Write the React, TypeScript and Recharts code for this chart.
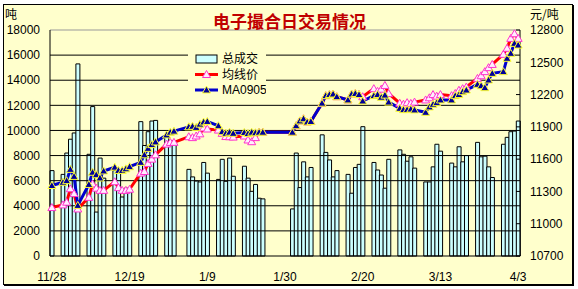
import React from "react";
import {
  ComposedChart,
  Bar,
  Line,
  XAxis,
  YAxis,
  ReferenceLine,
  Legend,
} from "recharts";

const N = null;

// every calendar day 2008/11/28 .. 2009/4/3 (rows run Mon..Sun)
const days = [
  "11/28", "11/29", "11/30",
  "12/1", "12/2", "12/3", "12/4", "12/5", "12/6", "12/7",
  "12/8", "12/9", "12/10", "12/11", "12/12", "12/13", "12/14",
  "12/15", "12/16", "12/17", "12/18", "12/19", "12/20", "12/21",
  "12/22", "12/23", "12/24", "12/25", "12/26", "12/27", "12/28",
  "12/29", "12/30", "12/31", "1/1", "1/2", "1/3", "1/4",
  "1/5", "1/6", "1/7", "1/8", "1/9", "1/10", "1/11",
  "1/12", "1/13", "1/14", "1/15", "1/16", "1/17", "1/18",
  "1/19", "1/20", "1/21", "1/22", "1/23", "1/24", "1/25",
  "1/26", "1/27", "1/28", "1/29", "1/30", "1/31", "2/1",
  "2/2", "2/3", "2/4", "2/5", "2/6", "2/7", "2/8",
  "2/9", "2/10", "2/11", "2/12", "2/13", "2/14", "2/15",
  "2/16", "2/17", "2/18", "2/19", "2/20", "2/21", "2/22",
  "2/23", "2/24", "2/25", "2/26", "2/27", "2/28", "3/1",
  "3/2", "3/3", "3/4", "3/5", "3/6", "3/7", "3/8",
  "3/9", "3/10", "3/11", "3/12", "3/13", "3/14", "3/15",
  "3/16", "3/17", "3/18", "3/19", "3/20", "3/21", "3/22",
  "3/23", "3/24", "3/25", "3/26", "3/27", "3/28", "3/29",
  "3/30", "3/31", "4/1", "4/2", "4/3",
];

// 总成交 (吨)
const volume = [
  6800, N, N,
  6500, 8200, 9300, 9800, 15300, N, N,
  8100, 11900, 3500, 7800, 6200, N, N,
  6800, 6700, 4700, 5400, 5300, N, N,
  10700, 8800, 9900, 10750, 10800, N, N,
  9600, 9200, 8900, N, N, N, 6900,
  6300, 5970, 5900, 7450, 6600, N, N,
  6100, 7700, 5950, 7800, 6350, N, N,
  7150, 6200, 5150, 5700, 4600, 4550, N,
  N, N, N, N, N, N, 3750,
  8200, 5450, 7500, 6300, 7050, N, N,
  9650, 8250, 7650, 6300, 6800, N, N,
  6500, 5000, 7050, 7300, 10300, N, N,
  7450, 6850, 6450, 5400, 7700, N, N,
  8450, 8100, 7550, 7900, 7000, N, N,
  5900, 5900, 7100, 8900, 8350, N, N,
  7400, 7100, 8700, 7500, 8000, N, N,
  9050, 7900, 7950, 7100, 6250, N, N,
  8900, 9450, 9900, 9950, 10750,
];

// 均线价 (元/吨)
const avgPrice = [
  11150, N, N,
  11175, 11200, 11325, 11280, 11137, N, N,
  11245, 11370, 11330, 11310, 11310, N, N,
  11390, 11335, 11310, 11310, 11320, N, N,
  11470, 11485, 11560, 11600, 11640, N, N,
  11740, 11755, 11756, N, N, N, 11808,
  11800, 11815, 11835, 11890, 11880, N, N,
  11870, 11840, 11810, 11808, 11805, N, N,
  11815, 11778, 11762, 11800, 11850, 11850, N,
  N, N, N, N, N, N, 11850,
  11910, 11955, 11975, 11945, 11950, N, N,
  12120, 12190, 12200, 12205, 12180, N, N,
  12150, 12205, 12210, 12200, 12180, N, N,
  12255, 12230, 12250, 12285, 12210, N, N,
  12120, 12110, 12125, 12118, 12130, N, N,
  12150, 12170, 12200, 12185, 12200, N, N,
  12190, 12210, 12240, 12255, 12270, N, N,
  12350, 12375, 12413, 12450, 12480, N, N,
  12574, 12630, 12722, 12765, 12722,
];

// MA0905 (元/吨)
const ma0905 = [
  11355, N, N,
  11385, 11400, 11505, 11440, 11170, N, N,
  11365, 11478, 11455, 11425, 11490, N, N,
  11525, 11495, 11495, 11510, 11530, N, N,
  11570, 11640, 11700, 11735, 11760, N, N,
  11825, 11850, 11860, N, N, N, 11900,
  11905, 11895, 11925, 11945, 11950, N, N,
  11910, 11855, 11840, 11850, 11840, N, N,
  11848, 11838, 11850, 11845, 11850, 11850, N,
  N, N, N, N, N, N, 11850,
  11910, 11955, 11975, 11945, 11950, N, N,
  12120, 12190, 12200, 12205, 12180, N, N,
  12150, 12205, 12210, 12200, 12140, N, N,
  12190, 12200, 12175, 12195, 12130, N, N,
  12072, 12060, 12060, 12065, 12057, N, N,
  12035, 12085, 12110, 12125, 12150, N, N,
  12150, 12190, 12200, 12227, 12242, N, N,
  12295, 12282, 12264, 12335, 12397, N, N,
  12413, 12537, 12583, 12676, 12660,
];

const xTicks = ["11/28", "12/19", "1/9", "1/30", "2/20", "3/13", "4/3"];
const leftTicks = [0, 2000, 4000, 6000, 8000, 10000, 12000, 14000, 16000, 18000];
const rightTicks = [10700, 11000, 11300, 11600, 11900, 12200, 12500, 12800];
const legendOrder = ["volume", "avg", "ma"];

const data = days.map((day, i) => ({
  day,
  volume: volume[i],
  avg: avgPrice[i],
  ma: ma0905[i],
}));

const BG = "#FFFFCC";
const BAR_FILL = "#CCFFFF";
const RED = "#FF0000";
const BLUE = "#0000CC";

const tri = (cx: number, cy: number) =>
  `M${cx},${cy - 4}L${cx + 4},${cy + 3}L${cx - 4},${cy + 3}Z`;

const redDot = (p: any) => {
  const { cx, cy, index } = p;
  if (cx == null || cy == null || isNaN(cy)) return <g key={`r${index}`} />;
  return <path key={`r${index}`} d={tri(cx, cy)} fill="#FFEEFF" stroke="#FF33CC" strokeWidth={1} />;
};

const blueDot = (p: any) => {
  const { cx, cy, index } = p;
  if (cx == null || cy == null || isNaN(cy)) return <g key={`b${index}`} />;
  return <path key={`b${index}`} d={tri(cx, cy)} fill="#000099" stroke="#FFFF33" strokeWidth={1} />;
};

function LegendBox(props: any) {
  const items = [...(props.payload || [])].sort(
    (a: any, b: any) => legendOrder.indexOf(a.dataKey) - legendOrder.indexOf(b.dataKey)
  );
  return (
    <svg width={78} height={52} style={{ display: "block" }}>
      <rect x={0} y={0} width={78} height={52} fill={BG} />
      {items.map((it: any, i: number) => {
        const y = 12 + i * 15.5;
        let icon;
        if (it.dataKey === "volume") {
          icon = <rect x={8} y={y - 4} width={21} height={8} fill={BAR_FILL} stroke="#000" />;
        } else {
          const c = it.dataKey === "avg" ? RED : BLUE;
          icon = (
            <g>
              <line x1={7} x2={30} y1={y} y2={y} stroke={c} strokeWidth={3} />
              {it.dataKey === "avg" ? redDot({ cx: 18.5, cy: y, index: i }) : blueDot({ cx: 18.5, cy: y, index: i })}
            </g>
          );
        }
        return (
          <g key={it.dataKey}>
            {icon}
            <text x={34} y={y} dy="0.35em" fontSize={12} fill="#000"
              fontFamily="'Liberation Sans', 'Noto Sans CJK SC', sans-serif">
              {it.value}
            </text>
          </g>
        );
      })}
    </svg>
  );
}

export default function App() {
  const tick = { fill: "#000", fontSize: 12 };
  return (
    <div
      style={{
        position: "absolute",
        left: 0,
        top: 0,
        width: 578,
        height: 289,
        background: "#fff",
        overflow: "hidden",
        fontFamily: "'Liberation Sans', Arial, sans-serif",
      }}
    >
      <div
        style={{
          position: "absolute",
          left: 3,
          top: 4,
          width: 568,
          height: 279,
          border: "1px solid #000",
          boxShadow: "1px 1px 0 #000",
          background: BG,
        }}
      />
      <div style={{ position: "absolute", left: 0, top: 0 }}>
        <ComposedChart
          width={578}
          height={289}
          data={data}
          margin={{ top: 30, right: 0, bottom: 0, left: 8 }}
          barCategoryGap={0}
          barGap={0}
        >
          <XAxis
            dataKey="day"
            ticks={xTicks}
            interval={0}
            tickLine={false}
            axisLine={{ stroke: "#000" }}
            tick={tick}
            tickMargin={10}
            height={33}
          />
          <YAxis
            yAxisId="left"
            orientation="left"
            width={42}
            domain={[0, 18000]}
            ticks={leftTicks}
            interval={0}
            tickLine={false}
            axisLine={{ stroke: "#000" }}
            tick={tick}
            tickMargin={4}
          />
          <YAxis
            yAxisId="right"
            orientation="right"
            width={58}
            domain={[10700, 12800]}
            ticks={rightTicks}
            interval={0}
            tickSize={-4}
            tickMargin={14}
            tickLine={{ stroke: "#000" }}
            axisLine={{ stroke: "#000" }}
            tick={tick}
          />
          <Bar
            yAxisId="left"
            dataKey="volume"
            name="总成交"
            fill={BAR_FILL}
            stroke="#000"
            strokeWidth={1}
            isAnimationActive={false}
          />
          {leftTicks.slice(1).map((v) => (
            <ReferenceLine
              key={v}
              yAxisId="left"
              y={v}
              stroke={v === 18000 ? "#999" : "#000"}
              strokeWidth={1}
            />
          ))}
          <Line
            yAxisId="right"
            dataKey="avg"
            name="均线价"
            stroke={RED}
            strokeWidth={3}
            dot={redDot}
            activeDot={false}
            connectNulls
            isAnimationActive={false}
          />
          <Line
            yAxisId="right"
            dataKey="ma"
            name="MA0905"
            stroke={BLUE}
            strokeWidth={3}
            dot={blueDot}
            activeDot={false}
            connectNulls
            isAnimationActive={false}
          />
          <Legend
            layout="vertical"
            align="center"
            verticalAlign="middle"
            content={LegendBox}
            wrapperStyle={{ left: 188, top: 47, width: 78, height: 52 }}
          />
        </ComposedChart>
      </div>
      <div
        style={{
          position: "absolute",
          left: 213,
          top: 12,
          fontFamily: "'Noto Sans CJK SC', sans-serif",
          fontWeight: 700,
          fontSize: 17,
          lineHeight: "17px",
          color: "#C00000",
          whiteSpace: "nowrap",
        }}
      >
        电子撮合日交易情况
      </div>
      <div
        style={{
          position: "absolute",
          left: 5,
          top: 8,
          fontFamily: "'Noto Sans CJK SC', sans-serif",
          fontSize: 12,
          lineHeight: "12px",
        }}
      >
        吨
      </div>
      <div
        style={{
          position: "absolute",
          left: 530,
          top: 8,
          fontFamily: "'Noto Sans CJK SC', sans-serif",
          fontSize: 12,
          lineHeight: "12px",
          whiteSpace: "nowrap",
        }}
      >
        元/吨
      </div>
    </div>
  );
}
